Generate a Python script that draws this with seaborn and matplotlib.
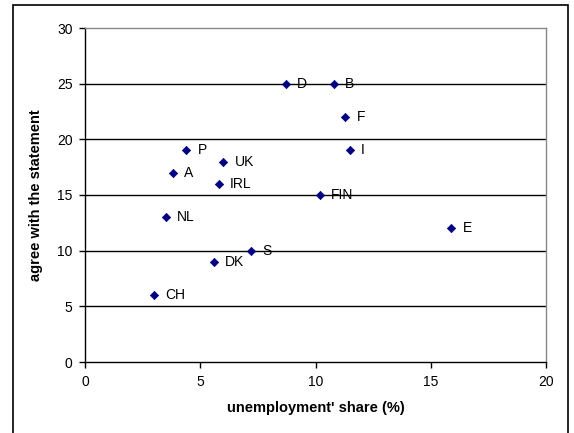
import matplotlib
matplotlib.use("Agg")
import matplotlib.pyplot as plt
import matplotlib.patches as mpatches
import seaborn as sns
import pandas as pd

sns.set_theme(style="white")
plt.rcParams["font.family"] = ["Liberation Sans", "DejaVu Sans"]
plt.rcParams["text.color"] = "black"
plt.rcParams["axes.labelcolor"] = "black"
plt.rcParams["xtick.color"] = "black"
plt.rcParams["ytick.color"] = "black"

countries = ["D", "B", "F", "I", "FIN", "P", "UK", "A", "IRL", "NL", "S", "DK", "CH", "E"]
unemployment = [8.7, 10.8, 11.3, 11.5, 10.2, 4.4, 6.0, 3.8, 5.8, 3.5, 7.2, 5.6, 3.0, 15.9]
agree = [25, 25, 22, 19, 15, 19, 18, 17, 16, 13, 10, 9, 6, 12]

df = pd.DataFrame({"country": countries, "unemp": unemployment, "agree": agree})

fig = plt.figure(figsize=(5.74, 4.33), dpi=100)
ax = fig.add_axes([85 / 574, 1 - 362 / 433, (546 - 85) / 574, (362 - 28) / 433])

# gridlines first so markers sit on top
for yv in range(5, 30, 5):
    ax.axhline(yv, color="black", lw=1.0, zorder=1)

sns.scatterplot(data=df, x="unemp", y="agree", marker="D", s=18, color="#000080",
                edgecolor="#000080", linewidth=0.5, ax=ax, zorder=3, legend=False)

for _, r in df.iterrows():
    ax.annotate(r["country"], (r["unemp"], r["agree"]), xytext=(8, 0),
                textcoords="offset points", va="center", ha="left",
                fontsize=10, color="black", zorder=4)

ax.set_xlim(0, 20)
ax.set_ylim(0, 30)
ax.set_xticks([0, 5, 10, 15, 20])
ax.set_yticks([0, 5, 10, 15, 20, 25, 30])
ax.tick_params(axis="both", direction="out", length=4, width=1, color="black",
               labelsize=10, bottom=True, left=True, pad=5)
for side in ["left", "bottom"]:
    ax.spines[side].set_color("black")
    ax.spines[side].set_linewidth(1.0)
for side in ["top", "right"]:
    ax.spines[side].set_color("#888888")
    ax.spines[side].set_linewidth(1.0)

ax.set_xlabel("unemployment' share (%)", fontsize=10.5, fontweight="bold", labelpad=9)
ax.set_ylabel("agree with the statement", fontsize=10.5, fontweight="bold", labelpad=10)

# outer chart border
fig.patches.append(mpatches.Rectangle((13 / 574, -0.05), (568 - 13) / 574, 1.05 - 5 / 433,
                                      transform=fig.transFigure, fill=False,
                                      edgecolor="black", linewidth=1.2))

fig.savefig("out.png", dpi=100)
